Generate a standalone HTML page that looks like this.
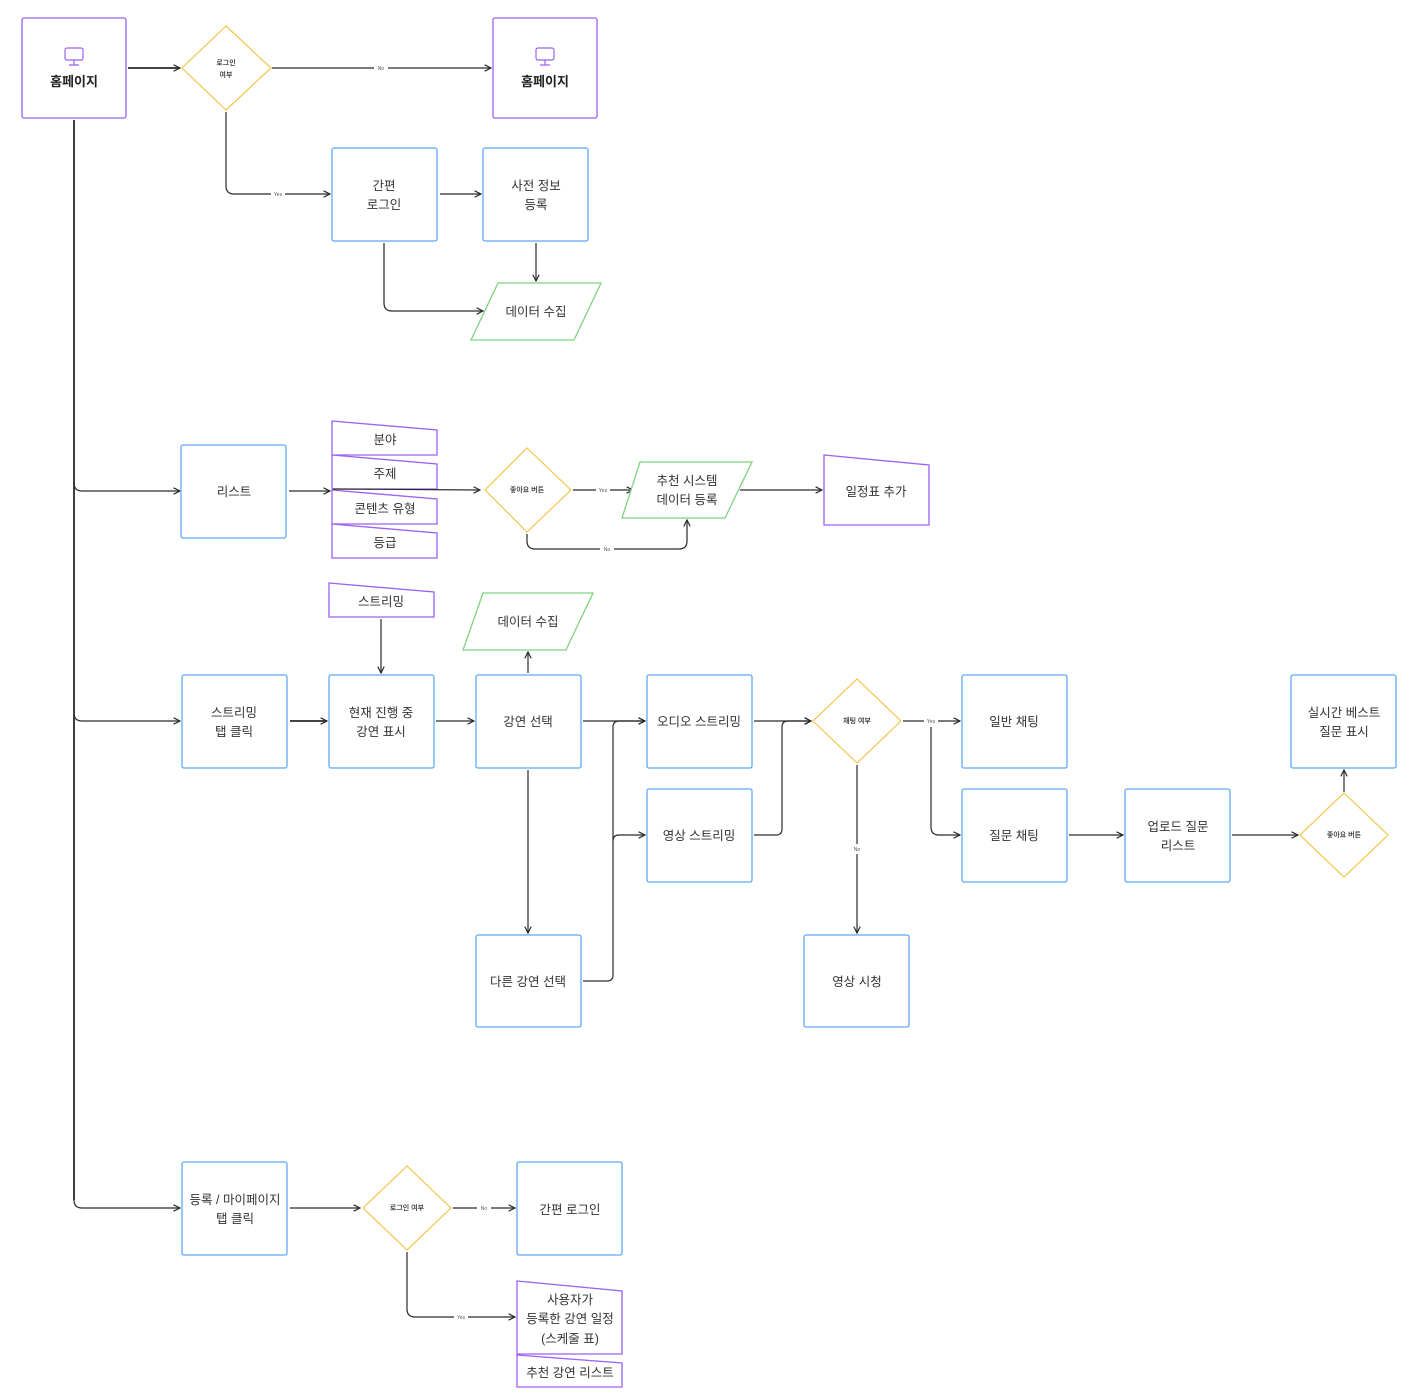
<!DOCTYPE html>
<html><head><meta charset="utf-8">
<style>
html,body{margin:0;padding:0;background:#fff;}
svg{display:block;}
text{font-family:"Liberation Sans","Noto Sans CJK KR",sans-serif;fill:#333;}
.t{font-size:12.5px;text-anchor:middle;dominant-baseline:middle;transform:translateY(1.5px);}
.s{font-size:7px;text-anchor:middle;dominant-baseline:middle;fill:#222;font-weight:500;}
.l{font-size:5px;text-anchor:middle;dominant-baseline:middle;fill:#555;}
.b{fill:#fff;stroke:#5ea9f2;stroke-width:1.3;}
.p{fill:#fff;stroke:#9a62f5;stroke-width:1.3;}
.g{fill:#fff;stroke:#7fd27f;stroke-width:1.3;}
.y{fill:#fff;stroke:#f5c54a;stroke-width:1.2;}
.c{fill:none;stroke:#2a2a2a;stroke-width:1.2;}
.c2{fill:none;stroke:#2a2a2a;stroke-width:1.8;}
.lb{fill:#fff;}
</style></head><body>
<svg width="1418" height="1400" viewBox="0 0 1418 1400" xmlns="http://www.w3.org/2000/svg">
<defs>
<marker id="a" viewBox="0 0 10 10" refX="9" refY="5" markerWidth="8" markerHeight="8" markerUnits="userSpaceOnUse" orient="auto"><path d="M1 1 L9 5 L1 9" fill="none" stroke="#2a2a2a" stroke-width="1.5"/></marker>
</defs>

<path class="c2" d="M74 120 V1200"/>
<path class="c" d="M74 483 Q74 491 82 491 H180" marker-end="url(#a)"/>
<path class="c" d="M74 713 Q74 721 82 721 H180" marker-end="url(#a)"/>
<path class="c" d="M74 1200 Q74 1208 82 1208 H180" marker-end="url(#a)"/>

<rect class="p" x="22" y="18" width="104" height="100" rx="2"/>
<rect x="65" y="48" width="18" height="12" rx="2" fill="none" stroke="#9a62f5" stroke-width="1.2"/>
<path d="M74 60 V65 M69 65 H79" stroke="#9a62f5" stroke-width="1.2"/>
<text class="t" x="74" y="81" style="font-weight:bold;font-size:13px;fill:#222">홈페이지</text>

<path class="c2" d="M128 68 H180" marker-end="url(#a)"/>
<polygon class="y" points="226,26 271,68 226,110 182,68"/>
<text class="s" x="226" y="63">로그인</text>
<text class="s" x="226" y="75">여부</text>

<path class="c" d="M272 68 H491" marker-end="url(#a)"/>
<rect class="lb" x="374" y="64" width="14" height="8"/><text class="l" x="381" y="68.5">No</text>

<rect class="p" x="493" y="18" width="104" height="100" rx="2"/>
<rect x="536" y="48" width="18" height="12" rx="2" fill="none" stroke="#9a62f5" stroke-width="1.2"/>
<path d="M545 60 V65 M540 65 H550" stroke="#9a62f5" stroke-width="1.2"/>
<text class="t" x="545" y="81" style="font-weight:bold;font-size:13px;fill:#222">홈페이지</text>

<path class="c" d="M226 112 V186 Q226 194 234 194 H330" marker-end="url(#a)"/>
<rect class="lb" x="271" y="190" width="14" height="8"/><text class="l" x="278" y="194.5">Yes</text>

<rect class="b" x="332" y="148" width="105" height="93" rx="2"/>
<text class="t" x="384" y="185">간편</text><text class="t" x="384" y="204">로그인</text>
<path class="c" d="M440 194 H481" marker-end="url(#a)"/>
<rect class="b" x="483" y="148" width="105" height="93" rx="2"/>
<text class="t" x="536" y="185">사전 정보</text><text class="t" x="536" y="204">등록</text>
<path class="c" d="M536 243 V281" marker-end="url(#a)"/>
<path class="c" d="M384 243 V303 Q384 311 392 311 H483" marker-end="url(#a)"/>
<polygon class="g" points="498,283 601,283 574,340 471,340"/>
<text class="t" x="536" y="311">데이터 수집</text>

<rect class="b" x="181" y="445" width="105" height="93" rx="2"/>
<text class="t" x="234" y="491">리스트</text>
<path class="c" d="M289 491 H330" marker-end="url(#a)"/>
<polygon class="p" points="332,421 437,430 437,455 332,455"/>
<text class="t" x="385" y="439">분야</text>
<polygon class="p" points="332,455 437,464 437,489 332,489"/>
<text class="t" x="385" y="473">주제</text>
<polygon class="p" points="332,490 437,499 437,524 332,524"/>
<text class="t" x="385" y="508">콘텐츠 유형</text>
<polygon class="p" points="332,524 437,533 437,558 332,558"/>
<text class="t" x="385" y="542">등급</text>
<path class="c" d="M333 489 L480 490" marker-end="url(#a)"/>
<polygon class="y" points="527,448 571,490 527,532 485,490"/>
<text class="s" x="527" y="490">좋아요 버튼</text>
<path class="c" d="M573 490 H633" marker-end="url(#a)"/>
<rect class="lb" x="596" y="486" width="14" height="8"/><text class="l" x="603" y="490.5">Yes</text>
<path class="c" d="M527 534 V541 Q527 549 535 549 H679 Q687 549 687 541 V520" marker-end="url(#a)"/>
<rect class="lb" x="600" y="545" width="14" height="8"/><text class="l" x="607" y="549.5">No</text>
<polygon class="g" points="640,462 752,462 725,518 622,518"/>
<text class="t" x="687" y="480">추천 시스템</text><text class="t" x="687" y="499">데이터 등록</text>
<path class="c" d="M740 490 H822" marker-end="url(#a)"/>
<polygon class="p" points="824,455 929,465 929,525 824,525"/>
<text class="t" x="876" y="491">일정표 추가</text>

<polygon class="p" points="329,583 434,592 434,617 329,617"/>
<text class="t" x="381" y="601">스트리밍</text>
<path class="c" d="M381 619 V673" marker-end="url(#a)"/>
<polygon class="g" points="483,593 593,593 566,650 463,650"/>
<text class="t" x="528" y="621">데이터 수집</text>
<path class="c" d="M528 673 V652" marker-end="url(#a)"/>

<rect class="b" x="182" y="675" width="105" height="93" rx="2"/>
<text class="t" x="234" y="712">스트리밍</text><text class="t" x="234" y="731">탭 클릭</text>
<path class="c2" d="M290 721 H327" marker-end="url(#a)"/>
<rect class="b" x="329" y="675" width="105" height="93" rx="2"/>
<text class="t" x="381" y="712">현재 진행 중</text><text class="t" x="381" y="731">강연 표시</text>
<path class="c" d="M436 721 H474" marker-end="url(#a)"/>
<rect class="b" x="476" y="675" width="105" height="93" rx="2"/>
<text class="t" x="528" y="721">강연 선택</text>
<path class="c" d="M583 721 H645" marker-end="url(#a)"/>
<path class="c" d="M528 770 V933" marker-end="url(#a)"/>
<rect class="b" x="476" y="935" width="105" height="92" rx="2"/>
<text class="t" x="528" y="981">다른 강연 선택</text>
<path class="c" d="M583 981 H607 Q613 981 613 975 V727 Q613 721 619 721 H645" marker-end="url(#a)"/>
<path class="c" d="M613 841 Q613 835 619 835 H645" marker-end="url(#a)"/>

<rect class="b" x="647" y="675" width="105" height="93" rx="2"/>
<text class="t" x="699" y="721">오디오 스트리밍</text>
<rect class="b" x="647" y="789" width="105" height="93" rx="2"/>
<text class="t" x="699" y="835">영상 스트리밍</text>
<path class="c" d="M754 721 H811" marker-end="url(#a)"/>
<path class="c" d="M754 835 H776 Q782 835 782 829 V727 Q782 721 788 721 H811" marker-end="url(#a)"/>

<polygon class="y" points="857,679 901,721 857,763 813,721"/>
<text class="s" x="857" y="721">채팅 여부</text>
<path class="c" d="M903 721 H960" marker-end="url(#a)"/>
<rect class="lb" x="924" y="717" width="14" height="8"/><text class="l" x="931" y="721.5">Yes</text>
<path class="c" d="M931 727 V827 Q931 835 939 835 H960" marker-end="url(#a)"/>
<path class="c" d="M857 765 V933" marker-end="url(#a)"/>
<rect class="lb" x="850" y="844" width="14" height="10"/><text class="l" x="857" y="849.5">No</text>
<rect class="b" x="804" y="935" width="105" height="92" rx="2"/>
<text class="t" x="857" y="981">영상 시청</text>

<rect class="b" x="962" y="675" width="105" height="93" rx="2"/>
<text class="t" x="1014" y="721">일반 채팅</text>
<rect class="b" x="962" y="789" width="105" height="93" rx="2"/>
<text class="t" x="1014" y="835">질문 채팅</text>
<path class="c" d="M1069 835 H1123" marker-end="url(#a)"/>
<rect class="b" x="1125" y="789" width="105" height="93" rx="2"/>
<text class="t" x="1178" y="826">업로드 질문</text><text class="t" x="1178" y="845">리스트</text>
<path class="c" d="M1232 835 H1298" marker-end="url(#a)"/>
<polygon class="y" points="1344,793 1388,835 1344,877 1300,835"/>
<text class="s" x="1344" y="835">좋아요 버튼</text>
<path class="c" d="M1344 792 V770" marker-end="url(#a)"/>
<rect class="b" x="1291" y="675" width="105" height="93" rx="2"/>
<text class="t" x="1344" y="712">실시간 베스트</text><text class="t" x="1344" y="731">질문 표시</text>

<rect class="b" x="182" y="1162" width="105" height="93" rx="2"/>
<text class="t" x="235" y="1199">등록 / 마이페이지</text><text class="t" x="235" y="1218">탭 클릭</text>
<path class="c" d="M290 1208 H360" marker-end="url(#a)"/>
<polygon class="y" points="407,1166 451,1208 407,1250 363,1208"/>
<text class="s" x="407" y="1208">로그인 여부</text>
<path class="c" d="M453 1208 H515" marker-end="url(#a)"/>
<rect class="lb" x="477" y="1204" width="14" height="8"/><text class="l" x="484" y="1208.5">No</text>
<rect class="b" x="517" y="1162" width="105" height="93" rx="2"/>
<text class="t" x="570" y="1209">간편 로그인</text>
<path class="c" d="M407 1252 V1309 Q407 1317 415 1317 H515" marker-end="url(#a)"/>
<rect class="lb" x="454" y="1313" width="14" height="8"/><text class="l" x="461" y="1317.5">Yes</text>
<polygon class="p" points="517,1281 622,1291 622,1354 517,1354"/>
<text class="t" x="570" y="1299">사용자가</text>
<text class="t" x="570" y="1318">등록한 강연 일정</text>
<text class="t" x="570" y="1338">(스케줄 표)</text>
<polygon class="p" points="517,1355 622,1363 622,1387 517,1387"/>
<text class="t" x="570" y="1372">추천 강연 리스트</text>
</svg>
</body></html>
